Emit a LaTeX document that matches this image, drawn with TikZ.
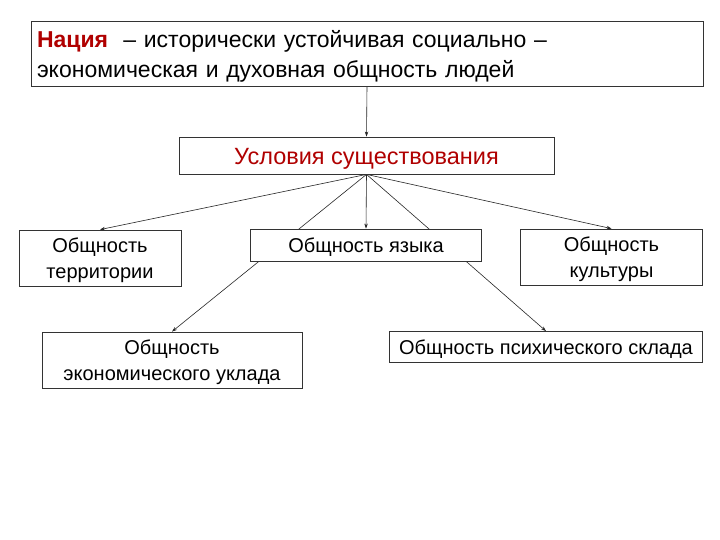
\documentclass[tikz,border=0pt]{standalone}
\usepackage{fontspec}
\setmainfont{Liberation Sans}
\usetikzlibrary{arrows.meta,backgrounds}
\definecolor{nred}{HTML}{B00000}
\newcommand\mystrut[1]{\rule{0pt}{#1}}
\begin{document}
\begin{tikzpicture}[x=1pt,y=-1pt,
  box/.style={draw=black!80, line width=0.8pt, fill=white, rectangle, inner sep=0pt, align=center,
    font=\fontsize{20}{26}\selectfont},
  conn/.style={line width=0.6pt, draw=black!85, -{Stealth[length=5pt,width=3.5pt]}}]
\useasboundingbox (0,0) rectangle (720,540);
\node[box, minimum width=672pt, minimum height=65pt, text width=660pt, align=left,
  font=\fontsize{23}{30}\selectfont] (nat) at (367,53.5)
  {\mystrut{22.5pt}\textcolor{nred}{\textbf{Нация}}\ \ – исторически устойчивая социально –\\экономическая и духовная общность людей};
\node[box, minimum width=375pt, minimum height=37pt, text=nred, font=\fontsize{23.5}{28}\selectfont] (usl) at (366.5,155.5) {\mystrut{23pt}Условия существования};
\node[box, minimum width=162pt, minimum height=56pt] (terr) at (100,258) {\mystrut{19.5pt}Общность\\территории};
\node[box, minimum width=231pt, minimum height=32pt] (lang) at (366,245) {\mystrut{19.5pt}Общность языка};
\node[box, minimum width=182pt, minimum height=56pt] (cult) at (611.5,257) {\mystrut{20pt}Общность\\культуры};
\node[box, minimum width=260pt, minimum height=56pt] (econ) at (172,360) {\mystrut{19.5pt}Общность\\экономического уклада};
\node[box, minimum width=313pt, minimum height=31pt] (psy) at (546,347) {\mystrut{19.5pt}Общность психического склада};
\begin{scope}[on background layer]
\fill[white] (0,0) rectangle (720,540);
\draw[conn] (nat.south) -- (usl.north);
\draw[conn] (usl.south) -- (terr.north);
\draw[conn] (usl.south) -- (lang.north);
\draw[conn] (usl.south) -- (cult.north);
\draw[conn] (usl.south) -- (econ.north);
\draw[conn] (usl.south) -- (psy.north);
\end{scope}
\end{tikzpicture}
\end{document}
